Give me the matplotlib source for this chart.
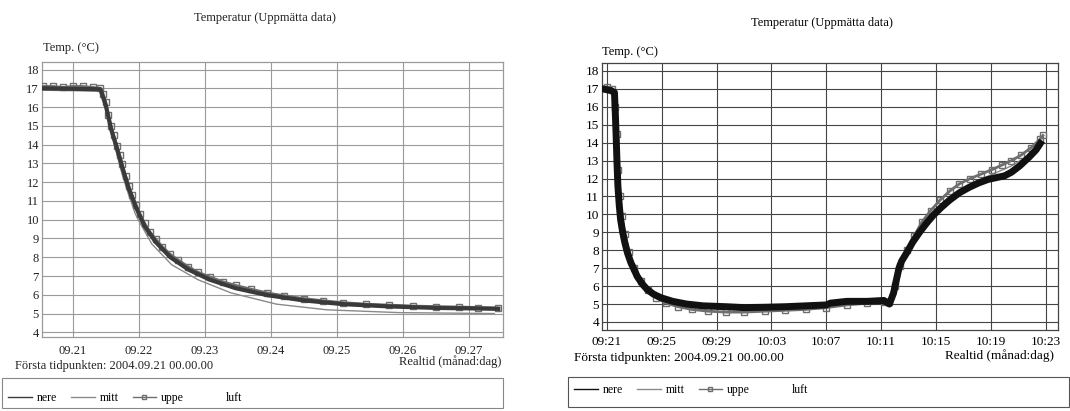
import matplotlib
matplotlib.use("Agg")
import matplotlib.pyplot as plt
from matplotlib.patches import Rectangle

plt.rcParams["font.family"] = ["Liberation Serif", "DejaVu Serif"]

# ---- left chart: days after 09.21 ----
left_ticks = [0, 1, 2, 3, 4, 5, 6]
left_labels = ["09.21", "09.22", "09.23", "09.24", "09.25", "09.26", "09.27"]

l_uppe_t = [-0.45, -0.3, -0.15, 0, 0.15, 0.3, 0.42, 0.46, 0.5, 0.54, 0.58, 0.62, 0.67,
            0.71, 0.75, 0.8, 0.85, 0.9, 0.96, 1.02, 1.09, 1.17, 1.26, 1.36, 1.48, 1.6,
            1.75, 1.9, 2.08, 2.27, 2.47, 2.7, 2.95, 3.2, 3.5, 3.8, 4.1, 4.45, 4.8, 5.15,
            5.5, 5.85, 6.15, 6.45]
l_uppe_T = [17.1, 17.1, 17.05, 17.1, 17.1, 17.05, 17.0, 16.7, 16.25, 15.6, 15.0, 14.5,
            13.95, 13.45, 12.95, 12.35, 11.8, 11.3, 10.8, 10.3, 9.8, 9.35, 8.95, 8.55,
            8.15, 7.85, 7.5, 7.2, 6.95, 6.7, 6.5, 6.3, 6.1, 5.95, 5.8, 5.68, 5.58, 5.5,
            5.45, 5.4, 5.37, 5.35, 5.32, 5.3]

l_nere_t = [-0.45, 0.42, 0.5, 0.58, 0.67, 0.75, 0.85, 0.96, 1.09, 1.26, 1.48, 1.75,
            2.08, 2.47, 2.95, 3.5, 4.1, 4.8, 5.5, 6.15, 6.45]
l_nere_T = [17.0, 16.95, 16.1, 14.85, 13.8, 12.8, 11.65, 10.65, 9.65, 8.8, 8.0, 7.35,
            6.8, 6.35, 5.98, 5.7, 5.5, 5.38, 5.3, 5.27, 5.25]

l_mitt_t = [-0.45, 0.42, 0.5, 0.58, 0.67, 0.75, 0.85, 0.95, 1.0, 1.2, 1.5, 1.9, 2.4,
            3.09, 3.85, 4.95, 6.39]
l_mitt_T = [16.9, 16.85, 16.0, 14.7, 13.5, 12.4, 11.3, 10.3, 9.95, 8.7, 7.6, 6.8, 6.1,
            5.5, 5.2, 5.05, 5.0]

# ---- right chart: days after 09.21 ----
right_ticks = [0, 4, 8, 12, 16, 20, 24, 28, 32]
right_labels = ["09:21", "09:25", "09:29", "10:03", "10:07", "10:11", "10:15", "10:19", "10:23"]

r_nere_t = [-0.3, 0.0, 0.3, 0.55, 0.62, 0.68, 0.73, 0.8, 0.9, 1.0, 1.15, 1.3, 1.5, 1.75,
            2.0, 2.2, 2.6, 2.95, 3.4, 3.95, 4.8, 5.8, 7.0, 8.7, 10.0, 11.5, 13.0, 14.5,
            16.0, 16.3, 17.5, 19.0, 20.2, 20.6, 20.9, 21.1, 21.3, 21.5, 21.9, 22.3, 22.8,
            23.3, 23.8, 24.4, 25.0, 25.7, 26.4, 27.1, 27.8, 28.4, 29.0, 29.5, 30.1, 30.8,
            31.3, 31.6]
r_nere_T = [17.0, 16.95, 16.9, 16.8, 15.5, 14.2, 13.0, 11.6, 10.5, 9.7, 9.0, 8.45, 7.85,
            7.3, 6.9, 6.55, 6.1, 5.8, 5.55, 5.35, 5.15, 5.0, 4.9, 4.85, 4.8, 4.82, 4.85,
            4.9, 4.95, 5.05, 5.15, 5.15, 5.2, 5.0, 5.6, 6.3, 7.0, 7.4, 7.9, 8.45, 9.0,
            9.5, 9.95, 10.4, 10.8, 11.2, 11.5, 11.75, 11.95, 12.05, 12.15, 12.35, 12.7,
            13.2, 13.6, 13.95]

r_uppe_t = [0.0, 0.4, 0.6, 0.7, 0.8, 0.95, 1.1, 1.3, 1.6, 2.0, 2.5, 3.0, 3.6, 4.3, 5.2,
            6.2, 7.4, 8.7, 10.0, 11.5, 13.0, 14.5, 16.0, 17.5, 19.0, 20.2, 20.6, 21.0,
            21.4, 21.9, 22.4, 23.0, 23.6, 24.3, 25.0, 25.7, 26.5, 27.3, 28.1, 28.8, 29.5,
            30.2, 30.9, 31.6, 31.8]
r_uppe_T = [17.1, 17.0, 16.0, 14.5, 12.5, 11.0, 9.9, 8.9, 7.9, 7.0, 6.3, 5.8, 5.35, 5.05,
            4.85, 4.7, 4.6, 4.55, 4.55, 4.6, 4.65, 4.7, 4.8, 4.95, 5.05, 5.1, 5.1, 6.0,
            7.1, 8.0, 8.8, 9.6, 10.2, 10.8, 11.3, 11.7, 12.0, 12.25, 12.5, 12.75, 13.0,
            13.3, 13.7, 14.2, 14.4]

r_mitt_t = [-0.3, 0.55, 0.7, 0.9, 1.2, 1.6, 2.2, 3.0, 4.0, 6.0, 9.0, 12.0, 16.0, 20.2,
            20.6, 21.3, 22.3, 23.5, 25.0, 26.5, 28.0, 29.5, 31.0, 31.7]
r_mitt_T = [16.9, 16.8, 14.0, 10.8, 9.0, 7.8, 6.6, 5.7, 5.2, 4.85, 4.7, 4.7, 4.9, 5.1,
            5.0, 7.2, 8.6, 9.8, 11.0, 11.7, 12.2, 12.7, 13.4, 14.1]

yticks = list(range(4, 19))
series_names = ["nere", "mitt", "uppe", "luft"]

fig = plt.figure(figsize=(10.7, 4.11), dpi=100)
ax1 = fig.add_axes([0.039, 0.180, 0.431, 0.669])
ax2 = fig.add_axes([0.5626, 0.197, 0.4262, 0.650])


def draw_panel(ax, nere, mitt, uppe, ink, grid_col, ms, nere_lw, uppe_lw, txt):
    ax.plot(mitt[0], mitt[1], color="#8a8a8a", lw=1.0, label="mitt", zorder=3)
    ax.plot(uppe[0], uppe[1], color="#6e6e6e", lw=uppe_lw, marker="s", ms=ms,
            mfc="none", mew=1.0, label="uppe", zorder=4)
    ax.plot(nere[0], nere[1], color=ink, lw=nere_lw, label="nere", zorder=5)
    ax.plot([], [], color="white", label="luft")
    ax.grid(True, color=grid_col, lw=0.8)
    ax.set_axisbelow(True)
    for s in ax.spines.values():
        s.set_color(grid_col)
        s.set_linewidth(0.9)
    ax.set_yticks(yticks)
    ax.tick_params(axis="both", length=0, labelsize=9, colors=txt)
    ax.tick_params(axis="y", pad=2)


draw_panel(ax1, (l_nere_t, l_nere_T), (l_mitt_t, l_mitt_T), (l_uppe_t, l_uppe_T),
           "#3a3a3a", "#9a9a9a", 5, 3.0, 2.0, "#222222")
ax1.set_xlim(-0.47, 6.52)
ax1.set_ylim(3.75, 18.4)
ax1.set_xticks(left_ticks)
ax1.set_xticklabels(left_labels)
ax1.tick_params(axis="x", pad=6)

draw_panel(ax2, (r_nere_t, r_nere_T), (r_mitt_t, r_mitt_T), (r_uppe_t, r_uppe_T),
           "#111111", "#444444", 4.5, 5.0, 2.0, "#000000")
ax2.set_xlim(-0.36, 32.9)
ax2.set_ylim(3.55, 18.45)
ax2.set_xticks(right_ticks)
ax2.set_xticklabels(right_labels)
ax2.tick_params(axis="both", labelsize=9.5)
ax2.tick_params(axis="x", pad=4)

# titles and labels
fig.text(0.248, 0.956, "Temperatur (Uppmätta data)", ha="center", va="center",
         fontsize=9, color="#222222")
fig.text(0.768, 0.944, "Temperatur (Uppmätta data)", ha="center", va="center",
         fontsize=9, color="#000000")
fig.text(0.040, 0.883, "Temp. (°C)", ha="left", va="center", fontsize=9, color="#222222")
fig.text(0.563, 0.874, "Temp. (°C)", ha="left", va="center", fontsize=9, color="#000000")
fig.text(0.014, 0.109, "Första tidpunkten: 2004.09.21 00.00.00", ha="left", va="center",
         fontsize=9, color="#222222")
fig.text(0.469, 0.119, "Realtid (månad:dag)", ha="right", va="center", fontsize=9,
         color="#222222")
fig.text(0.536, 0.129, "Första tidpunkten: 2004.09.21 00.00.00", ha="left", va="center",
         fontsize=9.5, color="#000000")
fig.text(0.985, 0.134, "Realtid (månad:dag)", ha="right", va="center", fontsize=9.5,
         color="#000000")

# legend boxes
fig.add_artist(Rectangle((0.002, 0.008), 0.468, 0.073, transform=fig.transFigure,
                         fill=False, ec="#888888", lw=0.8))
fig.add_artist(Rectangle((0.531, 0.010), 0.468, 0.073, transform=fig.transFigure,
                         fill=False, ec="#555555", lw=0.8))

for ax, x0, y0 in [(ax1, 0.0, 0.032), (ax2, 0.529, 0.050)]:
    h = {ln.get_label(): ln for ln in ax.lines}
    leg = ax.legend([h[n] for n in series_names], series_names, loc="center left",
                    bbox_to_anchor=(x0, y0), bbox_transform=fig.transFigure, ncol=4,
                    frameon=False, fontsize=8.5, handlelength=2.0, handletextpad=0.4,
                    columnspacing=1.2, borderpad=0.2, markerscale=0.7)
    for ln in leg.get_lines():
        ln.set_linewidth(1.0)

fig.savefig("out.png", dpi=100)
